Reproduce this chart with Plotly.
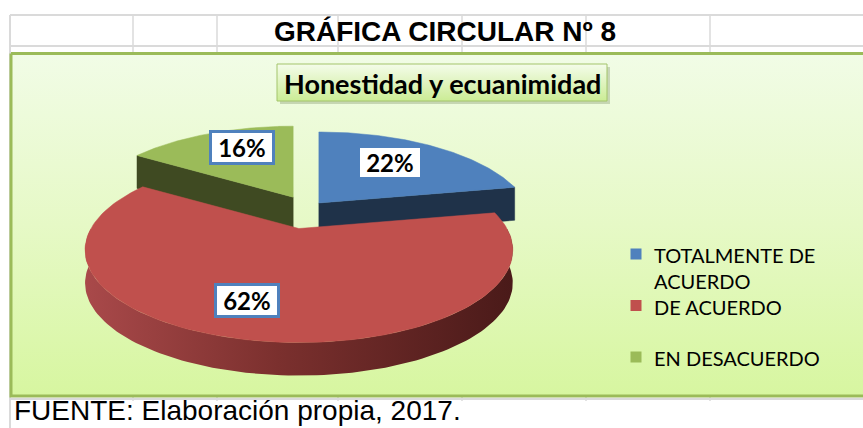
import textwrap
import numpy as np
import plotly.graph_objects as go

# ---------------- data ----------------
categories = ["TOTALMENTE DE ACUERDO", "DE ACUERDO", "EN DESACUERDO"]
values = [22, 62, 16]

chart_title = "GRÁFICA CIRCULAR Nº 8"
pie_title = "Honestidad y ecuanimidad"
source_note = "FUENTE: Elaboración propia, 2017."

# ---------------- style ----------------
top_colors = ["#4F81BD", "#C0504D", "#9BBB59"]
cut_colors = ["#1F3249", "#6E2A28", "#3F4A22"]
rim_scales = [
    [[0, "#2C4A70"], [1, "#15233A"]],
    [[0, "#A9494A"], [0.45, "#7B302E"], [1, "#4A1A19"]],
    [[0, "#5A6A30"], [1, "#303A19"]],
]
pulls = [0.082, 0.233, 0.148]
label_r = [0.65, 0.72, 0.72]
label_turn = [-3.4, 6.1, 5.4]
label_border = [0, 3, 3]
W_PX, H_PX = 863, 428

# pseudo-3D projection parameters (pixels)
CX, CY = 308, 208.5
R, RT, P = 208, 87.5, 0.2325
DEPTH = 33

def to_screen(X, W, s):
    d = 1 - P * W
    return CX + R * s["ox"] + R * X / d, CY + RT * s["oz"] + RT * W / d

fig = go.Figure()

# chart area background with vertical gradient
fig.add_trace(go.Scatter(
    x=[11, 870, 870, 11, 11], y=[53.5, 53.5, 396, 396, 53.5],
    mode="lines", fill="toself",
    line=dict(color="#9BBB59", width=3),
    fillgradient=dict(type="vertical", start=54, stop=396,
                      colorscale=[[0, "#F1FCE6"], [0.5, "#E6F9C6"], [1, "#D7F6A0"]]),
    hoverinfo="skip", showlegend=False))

# title box (shadow + gradient box)
bx0, bx1, by0, by1 = 277, 607, 64, 101
fig.add_trace(go.Scatter(
    x=[bx0 + 3, bx1 + 3, bx1 + 3, bx0 + 3, bx0 + 3],
    y=[by0 + 3, by0 + 3, by1 + 3, by1 + 3, by0 + 3],
    mode="lines", fill="toself", fillcolor="rgba(60,80,30,0.22)",
    line=dict(width=0), hoverinfo="skip", showlegend=False))
fig.add_trace(go.Scatter(
    x=[bx0, bx1, bx1, bx0, bx0], y=[by0, by0, by1, by1, by0],
    mode="lines", fill="toself",
    line=dict(color="#A3C46A", width=1),
    fillgradient=dict(type="vertical", start=by0, stop=by1,
                      colorscale=[[0, "#F4FCEA"], [1, "#CBEC95"]]),
    hoverinfo="skip", showlegend=False))

# ---------------- pie slices ----------------
total = float(sum(values))
bounds = np.concatenate([[0], np.cumsum(values)]) / total * 360.0
slices = []
for i, v in enumerate(values):
    a0, a1 = bounds[i], bounds[i + 1]
    mid = np.radians((a0 + a1) / 2)
    slices.append(dict(i=i, a0=a0, a1=a1, mid=mid,
                       ox=pulls[i] * np.sin(mid), oz=-pulls[i] * np.cos(mid)))

def arc_pts(s, a, b, n=120):
    th = np.radians(np.linspace(a, b, n))
    return to_screen(np.sin(th), -np.cos(th), s)

def point(s, a):
    th = np.radians(a)
    return to_screen(np.sin(th), -np.cos(th), s)

for s in sorted(slices, key=lambda q: q["oz"]):
    i = s["i"]
    vx, vy = to_screen(0.0, 0.0, s)
    faces = []
    if np.sin(np.radians(s["a0"])) < -1e-6:
        faces.append(s["a0"])
    if np.sin(np.radians(s["a1"])) > 1e-6:
        faces.append(s["a1"])
    for a in faces:
        px, py = point(s, a)
        fig.add_trace(go.Scatter(
            x=[vx, px, px, vx, vx], y=[vy, py, py + DEPTH, vy + DEPTH, vy],
            mode="lines", fill="toself", fillcolor=cut_colors[i],
            line=dict(color=cut_colors[i], width=0.5),
            hoverinfo="skip", showlegend=False))
    r0, r1 = max(s["a0"], 90), min(s["a1"], 270)
    if r1 > r0:
        tx, ty = arc_pts(s, r0, r1)
        xs = np.concatenate([tx, tx[::-1], tx[:1]])
        ys = np.concatenate([ty, ty[::-1] + DEPTH, ty[:1]])
        fig.add_trace(go.Scatter(
            x=xs, y=ys, mode="lines", fill="toself", line=dict(width=0),
            fillgradient=dict(type="horizontal", colorscale=rim_scales[i]),
            hoverinfo="skip", showlegend=False))
    ax, ay = arc_pts(s, s["a0"], s["a1"])
    fig.add_trace(go.Scatter(
        x=np.concatenate([[vx], ax, [vx]]), y=np.concatenate([[vy], ay, [vy]]),
        mode="lines", fill="toself", fillcolor=top_colors[i],
        line=dict(color=top_colors[i], width=0.5),
        name=categories[i], hoverinfo="name", showlegend=False))

# data labels
annotations = []
for s in slices:
    i = s["i"]
    ang = s["mid"] + np.radians(label_turn[i])
    lx, ly = to_screen(label_r[i] * np.sin(ang), -label_r[i] * np.cos(ang), s)
    annotations.append(dict(
        x=lx, y=ly, xref="x", yref="y", showarrow=False,
        text="&nbsp;<b>%d%%</b>&nbsp;" % round(values[i] / total * 100),
        font=dict(family="Lato", size=24, color="#000000"),
        bgcolor="#FFFFFF",
        bordercolor="#4F81BD" if label_border[i] else "rgba(0,0,0,0)",
        borderwidth=label_border[i], borderpad=0))

# ---------------- legend (manual) ----------------
LEG_X, LEG_Y0, LEG_DY = 636, 254, 51.5
fig.add_trace(go.Scatter(
    x=[LEG_X] * len(categories),
    y=[LEG_Y0 + k * LEG_DY for k in range(len(categories))],
    mode="markers",
    marker=dict(symbol="square", size=11, color=top_colors, line=dict(width=0)),
    hoverinfo="skip", showlegend=False))
for k, c in enumerate(categories):
    annotations.append(dict(
        x=LEG_X + 16, y=LEG_Y0 + k * LEG_DY - 13, xref="x", yref="y",
        xanchor="left", yanchor="top", align="left", showarrow=False,
        text="<br>".join(textwrap.wrap(c, 14)),
        font=dict(family="Lato", size=20, color="#000000")))

# titles and source
annotations.append(dict(
    x=445, y=31, xref="x", yref="y", showarrow=False,
    text="<b>%s</b>" % chart_title,
    font=dict(family="Liberation Sans, Arial", size=28, color="#000000")))
annotations.append(dict(
    x=(bx0 + bx1) / 2, y=(by0 + by1) / 2 + 1, xref="x", yref="y", showarrow=False,
    text="<b>%s</b>" % pie_title,
    font=dict(family="Lato", size=27, color="#000000")))
annotations.append(dict(
    x=12, y=428, xref="x", yref="y", xanchor="left", yanchor="bottom",
    showarrow=False, text=source_note,
    font=dict(family="Liberation Sans, Arial", size=28, color="#000000")))

# spreadsheet gridlines
GRID = "#DADADA"
shapes = []
for yy in (15, 46, 399):
    shapes.append(dict(type="line", x0=10, x1=W_PX, y0=yy, y1=yy, xref="x", yref="y",
                       line=dict(color=GRID, width=2), layer="below"))
shapes.append(dict(type="line", x0=10, x1=10, y0=15, y1=H_PX, xref="x", yref="y",
                   line=dict(color=GRID, width=2), layer="below"))
for xx in (133, 217, 338, 462, 586, 710):
    for (y0, y1) in ((15, 54), (396, 401)):
        shapes.append(dict(type="line", x0=xx, x1=xx, y0=y0, y1=y1, xref="x", yref="y",
                           line=dict(color=GRID, width=1.5), layer="below"))

fig.update_layout(
    width=W_PX, height=H_PX, autosize=False,
    margin=dict(l=0, r=0, t=0, b=0),
    paper_bgcolor="#FFFFFF", plot_bgcolor="#FFFFFF",
    xaxis=dict(range=[0, W_PX], visible=False, fixedrange=True),
    yaxis=dict(range=[H_PX, 0], visible=False, fixedrange=True),
    annotations=annotations, shapes=shapes,
    showlegend=False,
)

fig.write_html(
    "out.html",
    config={"displayModeBar": False},
    post_script="document.body.style.margin='0';document.body.style.overflow='hidden';",
)
